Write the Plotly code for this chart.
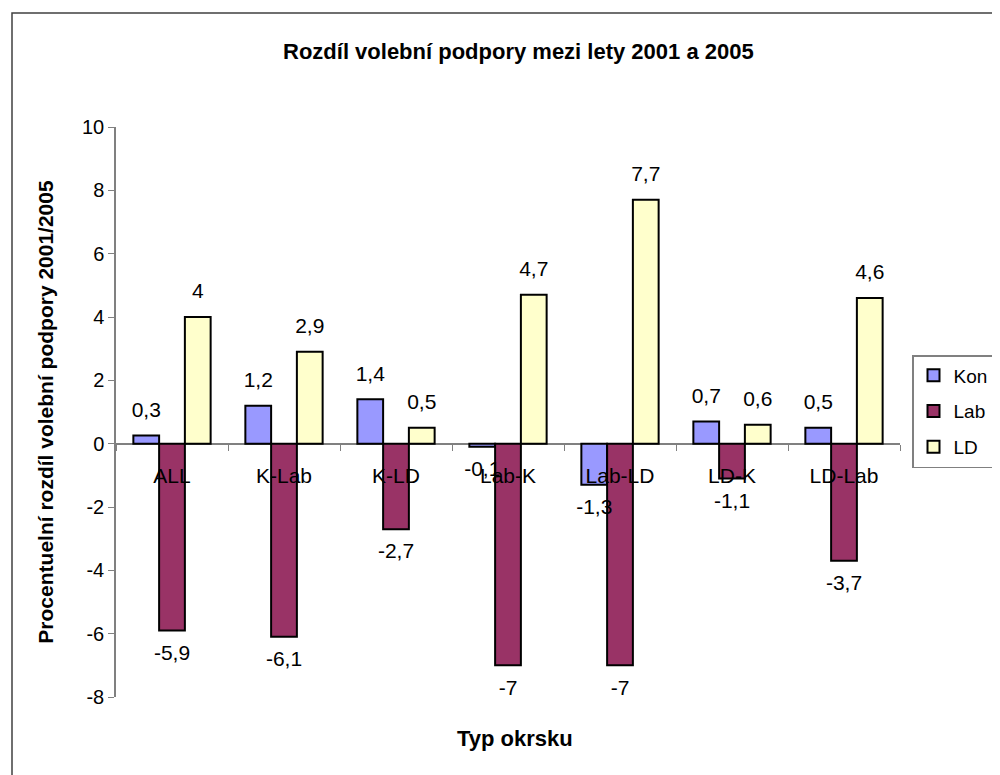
import plotly.graph_objects as go

categories = ["ALL", "K-Lab", "K-LD", "Lab-K", "Lab-LD", "LD-K", "LD-Lab"]
kon = [0.26, 1.2, 1.4, -0.1, -1.3, 0.7, 0.5]
lab = [-5.9, -6.1, -2.7, -7.0, -7.0, -1.1, -3.7]
ld = [4.0, 2.9, 0.5, 4.7, 7.7, 0.6, 4.6]
y_ticks = [-8, -6, -4, -2, 0, 2, 4, 6, 8, 10]


def fmt(v):
    s = f"{v:.1f}"
    if s.endswith(".0"):
        s = s[:-2]
    return s.replace(".", ",")


series = [("Kon", kon, "#9999FF"), ("Lab", lab, "#993366"), ("LD", ld, "#FFFFCC")]
FONT = "Liberation Sans, Arial"
GAP = 0.31

fig = go.Figure()
for name, vals, col in series:
    fig.add_trace(go.Bar(
        name=name, x=categories, y=vals, legendgroup=name,
        marker=dict(color=col, line=dict(color="black", width=2)),
    ))
for name, vals, col in series:
    fig.add_trace(go.Scatter(
        x=categories, y=vals, mode="text+markers", showlegend=False,
        marker=dict(size=20, opacity=0),
        text=[fmt(v) for v in vals],
        textposition=["top center" if v >= 0 else "bottom center" for v in vals],
        textfont=dict(size=21, color="black", family=FONT),
        cliponaxis=False, hoverinfo="skip",
    ))

# page body adds an 8px offset; reference positions are in screen pixels
OFF = 8
W, H = 1000, 775
L, T = 116 - OFF, 127 - OFF
pw, ph = 784, 570
R, B = W - L - pw, H - T - ph

def px_x(p):
    return (p - OFF - L) / pw

def px_y(p):
    return (T + ph - (p - OFF)) / ph

fig.update_layout(
    width=W, height=H,
    margin=dict(l=L, r=R, t=T, b=B, autoexpand=False),
    paper_bgcolor="white", plot_bgcolor="white",
    font=dict(family=FONT, size=20, color="black"),
    barmode="group", bargap=GAP, bargroupgap=0,
    scattermode="group", scattergap=GAP,
    showlegend=True,
    legend=dict(
        x=px_x(912), y=px_y(355), xanchor="left", yanchor="top",
        bordercolor="#808080", borderwidth=1.5,
        font=dict(size=19), itemwidth=30, tracegroupgap=8,
    ),
)

fig.update_yaxes(
    range=[-8, 10], tickvals=y_ticks, ticktext=[str(v) for v in y_ticks],
    showgrid=False, showline=True, linecolor="#808080", linewidth=1.5,
    ticks="outside", ticklen=6, tickcolor="#808080",
    zeroline=True, zerolinecolor="#808080", zerolinewidth=1.5,
    tickfont=dict(size=20), automargin=False,
    title=dict(text="<b>Procentuelní rozdíl volební podpory 2001/2005</b>",
               font=dict(size=21), standoff=23),
)
fig.update_xaxes(
    anchor="free", position=8 / 18, automargin=False,
    showgrid=False, showline=False,
    ticks="outside", ticklen=6, tickcolor="#808080", tickson="boundaries",
    tickfont=dict(size=21), ticklabelstandoff=17,
)

fig.add_annotation(
    text="<b>Rozdíl volební podpory mezi lety 2001 a 2005</b>",
    x=px_x(518), y=px_y(51), xref="paper", yref="paper",
    xanchor="center", yanchor="middle",
    showarrow=False, font=dict(size=22),
)
fig.add_annotation(
    text="<b>Typ okrsku</b>",
    x=px_x(515), y=px_y(738), xref="paper", yref="paper",
    xanchor="center", yanchor="middle",
    showarrow=False, font=dict(size=22),
)
fig.add_shape(
    type="rect", xref="paper", yref="paper",
    x0=px_x(12), x1=px_x(1020), y0=px_y(800), y1=px_y(13),
    line=dict(color="#404040", width=1.5), fillcolor="rgba(0,0,0,0)",
)

fig.write_html("out.html")
